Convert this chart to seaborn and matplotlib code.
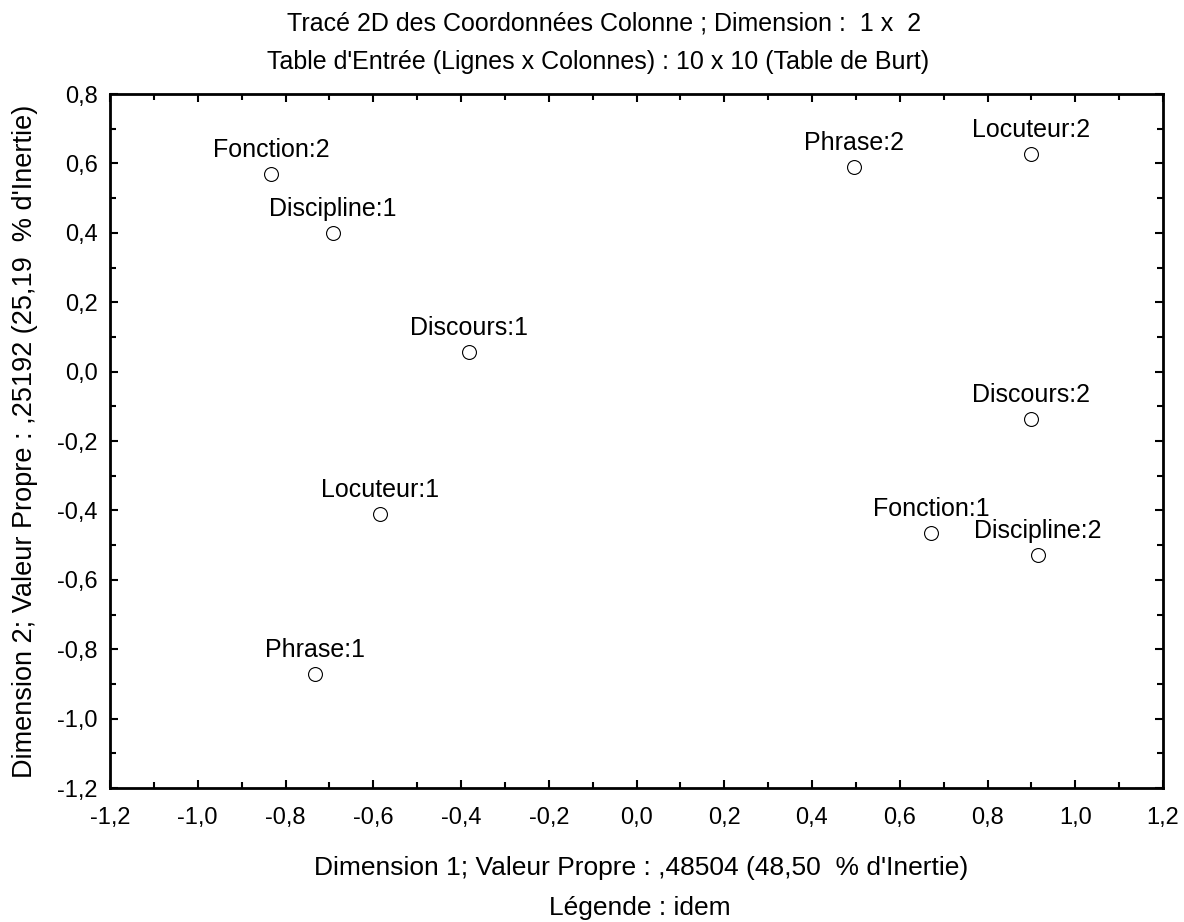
import matplotlib
matplotlib.use("Agg")
import matplotlib.pyplot as plt
from matplotlib.ticker import MultipleLocator, FuncFormatter
import seaborn as sns
import pandas as pd

labels = ["Fonction:2", "Discipline:1", "Discours:1", "Locuteur:1", "Phrase:1",
          "Phrase:2", "Locuteur:2", "Discours:2", "Fonction:1", "Discipline:2"]
dim1 = [-0.833, -0.692, -0.382, -0.585, -0.733, 0.496, 0.899, 0.899, 0.671, 0.915]
dim2 = [0.570, 0.400, 0.056, -0.410, -0.871, 0.590, 0.627, -0.137, -0.465, -0.528]

df = pd.DataFrame({"lab": labels, "d1": dim1, "d2": dim2})

sns.set_style("ticks")
plt.rcParams['font.family'] = ['Liberation Sans', 'DejaVu Sans']
plt.rcParams['text.color'] = 'black'
plt.rcParams['axes.labelcolor'] = 'black'
plt.rcParams['xtick.color'] = 'black'
plt.rcParams['ytick.color'] = 'black'

fig = plt.figure(figsize=(11.84, 9.22), dpi=100)
ax = fig.add_axes([110 / 1184, 1 - 788 / 922, 1053 / 1184, 694 / 922])

sns.scatterplot(data=df, x="d1", y="d2", ax=ax, marker="o", s=100,
                facecolor="white", edgecolor="black", linewidth=0.8, zorder=3)

for _, r in df.iterrows():
    ax.annotate(r["lab"], (r["d1"], r["d2"]), xytext=(0, 17), textcoords="offset pixels",
                ha="center", va="baseline", fontsize=18)

ax.set_xlim(-1.2, 1.2)
ax.set_ylim(-1.2, 0.8)
ax.xaxis.set_major_locator(MultipleLocator(0.2))
ax.xaxis.set_minor_locator(MultipleLocator(0.1))
ax.yaxis.set_major_locator(MultipleLocator(0.2))
ax.yaxis.set_minor_locator(MultipleLocator(0.1))
fmt = FuncFormatter(lambda v, p: f"{v:.1f}".replace("-0.0", "0.0").replace(".", ","))
ax.xaxis.set_major_formatter(fmt)
ax.yaxis.set_major_formatter(fmt)

ax.tick_params(which="both", direction="in", top=True, right=True, color="black")
ax.tick_params(which="major", length=6, width=1.5, labelsize=17)
ax.tick_params(axis="x", which="major", pad=14)
ax.tick_params(axis="y", which="major", pad=9)
ax.tick_params(which="minor", length=4, width=1.5)
for sp in ax.spines.values():
    sp.set_visible(True)
    sp.set_linewidth(2)
    sp.set_color("black")

ax.set_xlabel("Dimension 1; Valeur Propre : ,48504 (48,50  % d'Inertie)", fontsize=19)
ax.set_ylabel("Dimension 2; Valeur Propre : ,25192 (25,19  % d'Inertie)", fontsize=19.5)
ax.xaxis.set_label_coords(0.504, (788 - 868) / 694, transform=ax.transAxes)
ax.yaxis.set_label_coords((25 - 110) / 1053, 0.5, transform=ax.transAxes)
ax.xaxis.label.set_va("center")
ax.yaxis.label.set_va("center")

fig.text(604 / 1184, 1 - 23 / 922, "Tracé 2D des Coordonnées Colonne ; Dimension :  1 x  2",
         ha="center", va="center", fontsize=18)
fig.text(598 / 1184, 1 - 62 / 922, "Table d'Entrée (Lignes x Colonnes) : 10 x 10 (Table de Burt)",
         ha="center", va="center", fontsize=18)
fig.text(640 / 1184, 1 - 908 / 922, "Légende : idem", ha="center", va="center", fontsize=19)

fig.savefig("out.png", dpi=100, facecolor="white")
